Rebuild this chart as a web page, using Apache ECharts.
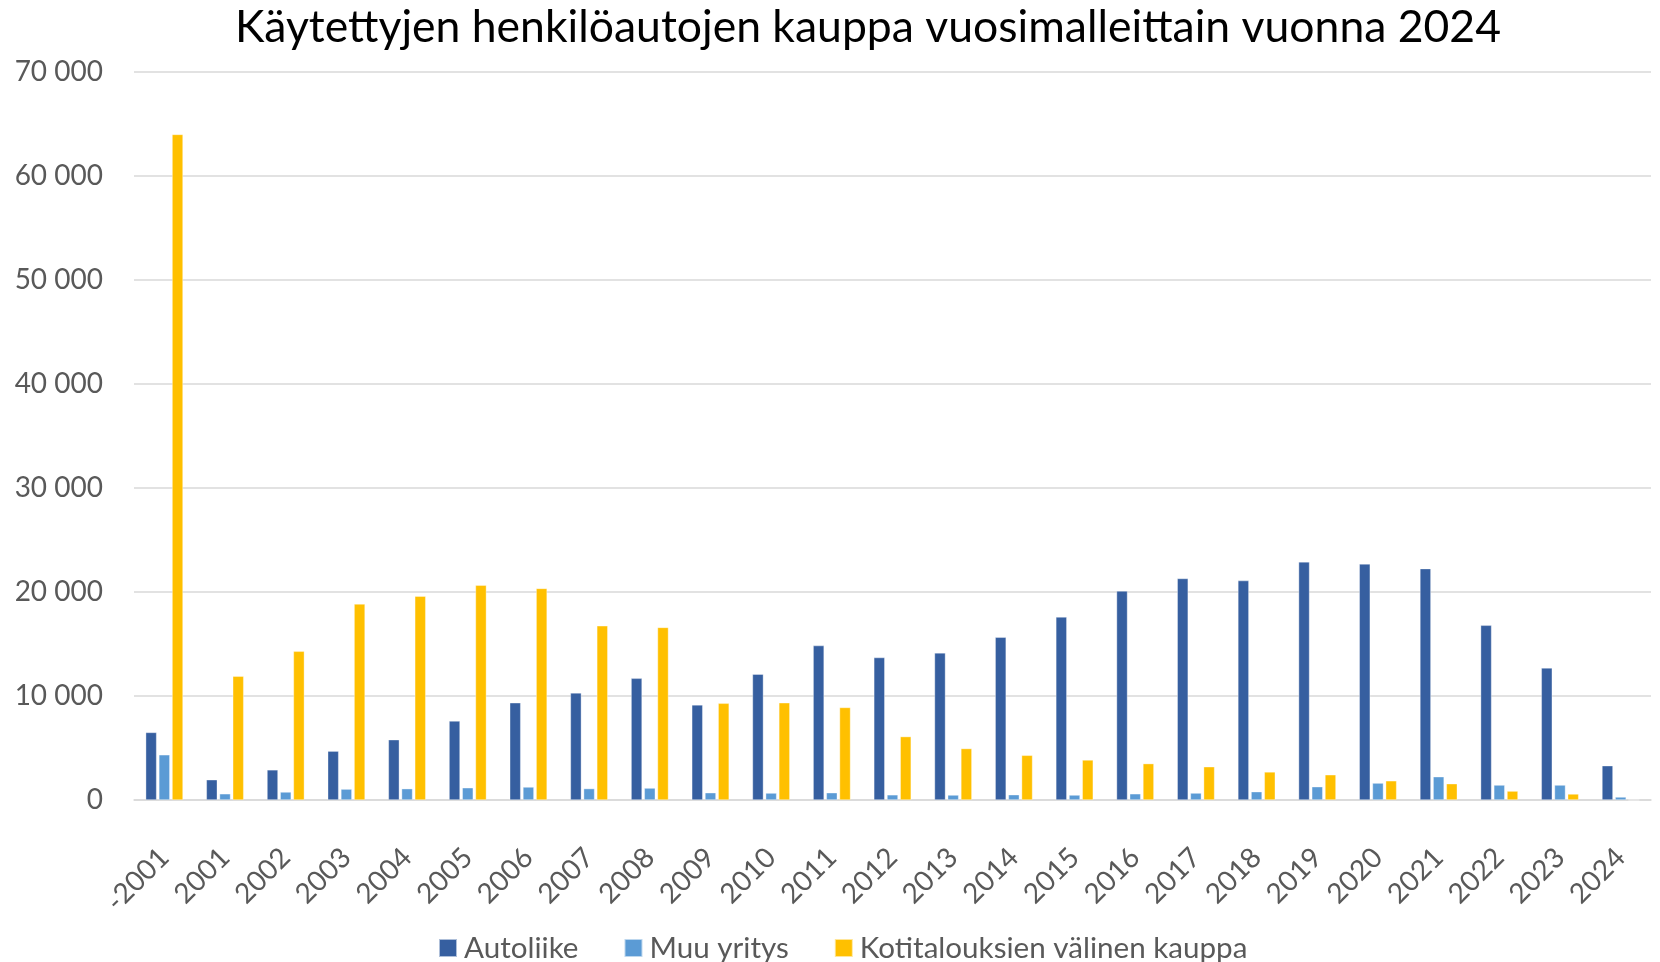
<!DOCTYPE html>
<html>
<head>
<meta charset="utf-8">
<script src="https://cdn.jsdelivr.net/npm/echarts@6/dist/echarts.min.js"></script>
<style>
  html, body { margin: 0; padding: 0; background: #ffffff; }
  #chart { width: 1660px; height: 962px; }
</style>
</head>
<body>
<div id="chart"></div>
<script>
// Vuosimalli (model year) categories
const years = ['-2001', '2001', '2002', '2003', '2004', '2005', '2006', '2007', '2008', '2009',
  '2010', '2011', '2012', '2013', '2014', '2015', '2016', '2017', '2018', '2019',
  '2020', '2021', '2022', '2023', '2024'];

// Sales by seller type
const autoliike = [6500, 1950, 2900, 4700, 5800, 7600, 9350, 10300, 11700, 9150,
  12100, 14850, 13700, 14150, 15650, 17600, 20100, 21300, 21100, 22900,
  22700, 22250, 16800, 12700, 3300];
const muuYritys = [4350, 600, 770, 1050, 1090, 1180, 1250, 1100, 1150, 700,
  670, 700, 500, 480, 510, 480, 600, 670, 800, 1280,
  1630, 2240, 1440, 1440, 290];
const kotitaloudet = [64000, 11900, 14300, 18850, 19600, 20650, 20350, 16750, 16600, 9300,
  9350, 8900, 6100, 4950, 4300, 3850, 3500, 3200, 2700, 2430,
  1850, 1570, 860, 580, 0];

const seriesNames = ['Autoliike', 'Muu yritys', 'Kotitalouksien välinen kauppa'];
const yTicks = { min: 0, max: 70000, step: 10000 };

const FONT = 'Lato, "Open Sans", sans-serif';
const LABEL = '#595959';

function thousands(v) {
  return String(v).replace(/\B(?=(\d{3})+(?!\d))/g, ' ');
}

function barSeries(name, data, color) {
  return {
    name: name,
    type: 'bar',
    data: data,
    barWidth: 11,
    barGap: '20%',
    itemStyle: { color: color, borderColor: 'rgba(255,255,255,0.6)', borderWidth: 0.6 }
  };
}

const chart = echarts.init(document.getElementById('chart'), null, { renderer: 'canvas' });
chart.setOption({
  backgroundColor: '#ffffff',
  animation: false,
  title: {
    text: 'Käytettyjen henkilöautojen kauppa vuosimalleittain vuonna 2024',
    left: 230,
    top: 0,
    textStyle: { fontFamily: FONT, fontSize: 44.5, fontWeight: 'normal', color: '#000000' }
  },
  legend: {
    data: seriesNames,
    bottom: -6,
    left: 433,
    itemWidth: 18,
    itemHeight: 18,
    itemGap: 45,
    icon: 'rect',
    textStyle: { fontFamily: FONT, fontSize: 29.6, color: LABEL, padding: [0, 0, 0, 2] }
  },
  grid: { left: 134, right: 9, top: 72, bottom: 162, containLabel: false },
  xAxis: {
    type: 'category',
    data: years,
    axisTick: { show: false },
    axisLine: { lineStyle: { color: '#d9d9d9', width: 1.5 } },
    axisLabel: {
      rotate: 45,
      interval: 0,
      margin: 53,
      fontFamily: FONT,
      fontSize: 28,
      color: LABEL
    }
  },
  yAxis: {
    type: 'value',
    min: yTicks.min,
    max: yTicks.max,
    interval: yTicks.step,
    axisLine: { show: false },
    axisTick: { show: false },
    splitLine: { lineStyle: { color: '#d9d9d9', width: 1.5 } },
    axisLabel: {
      margin: 31,
      fontFamily: FONT,
      fontSize: 28,
      color: LABEL,
      formatter: thousands
    }
  },
  series: [
    barSeries(seriesNames[0], autoliike, '#365FA0'),
    barSeries(seriesNames[1], muuYritys, '#5B9BD5'),
    barSeries(seriesNames[2], kotitaloudet, '#FFC000')
  ]
});
</script>
</body>
</html>
